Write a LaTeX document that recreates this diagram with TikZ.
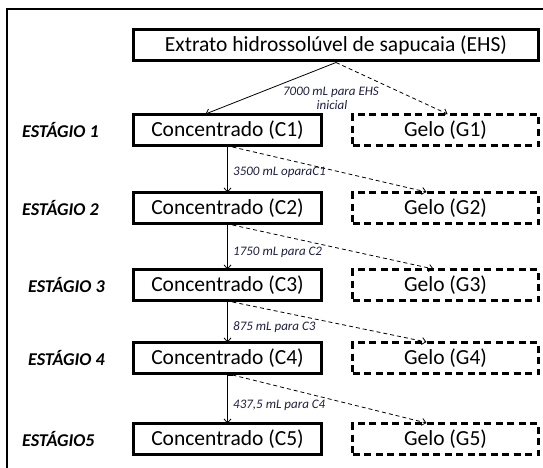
\documentclass[tikz,border=0pt]{standalone}
\usepackage{fontspec}
\setmainfont{Carlito}
\usetikzlibrary{arrows.meta}
\definecolor{lblcol}{rgb}{0.12,0.12,0.25}
\begin{document}
\begin{tikzpicture}[x=1pt,y=-1pt,
  solidbox/.style={draw,line width=3pt,minimum height=31pt,inner sep=0pt,font=\fontsize{21.5}{25}\selectfont},
  dashbox/.style={draw,line width=3pt,dash pattern=on 7pt off 4.5pt,minimum width=186pt,minimum height=31pt,inner sep=0pt,font=\fontsize{21.5}{25}\selectfont},
  stagelbl/.style={anchor=west,inner sep=0pt,font=\fontsize{18}{21}\selectfont\bfseries\itshape},
  flowlbl/.style={anchor=west,inner sep=0pt,text=lblcol,font=\fontsize{13}{14}\selectfont\itshape},
  solidarrow/.style={line width=0.8pt,-{Straight Barb[length=4pt,width=7pt]}},
  dasharrow/.style={line width=0.8pt,dash pattern=on 4pt off 3pt,-{Straight Barb[length=4pt,width=7pt]}}
]
\useasboundingbox (0,0) rectangle (543,468);
% outer frame (cut off at right and bottom)
\draw[line width=2pt] (560,9) -- (7,9) -- (7,480);

\node[solidbox,minimum width=405pt] (EHS) at (336,45.5) {Extrato hidrossolúvel de sapucaia (EHS)};

\foreach \i/\y in {1/130,2/208,3/285,4/358,5/439}{
  \node[solidbox,minimum width=188pt] (C\i) at (227.5,\y) {Concentrado (C\i)};
  \node[dashbox] (G\i) at (445.5,\y) {Gelo (G\i)};
}

\node[stagelbl] (S1) at (22,130) {ESTÁGIO 1};
\node[stagelbl] (S2) at (22,208) {ESTÁGIO 2};
\node[stagelbl] (S3) at (28,285) {ESTÁGIO 3};
\node[stagelbl] (S4) at (28,358) {ESTÁGIO 4};
\node[stagelbl] (S5) at (22,439) {ESTÁGIO5};

% arrows
\draw[solidarrow] (EHS.south) -- ([xshift=-22pt,yshift=-1pt]C1.north);
\draw[dasharrow] (EHS.south) -- ([xshift=2pt,yshift=-1pt]G1.north);
\node[flowlbl,anchor=center] (L0a) at (331,92) {7000 mL para EHS};
\node[flowlbl,anchor=center] (L0b) at (332,105) {inicial};

\draw[solidarrow] (C1.south) -- ([yshift=-1.5pt]C2.north);
\draw[dasharrow] ([xshift=5pt]C1.south) -- ([xshift=-19pt,yshift=-1pt]G2.north);
\node[flowlbl] (L1) at (233,172) {3500 mL oparaC1};

\draw[solidarrow] (C2.south) -- ([yshift=-1.5pt]C3.north);
\draw[dasharrow] ([xshift=5pt]C2.south) -- ([xshift=-12pt,yshift=-1pt]G3.north);
\node[flowlbl] (L2) at (233,252) {1750 mL para C2};

\draw[solidarrow] (C3.south) -- ([yshift=-1.5pt]C4.north);
\draw[dasharrow] ([xshift=5pt]C3.south) -- ([xshift=-19pt,yshift=-1pt]G4.north);
\node[flowlbl] (L3) at (233,327) {875 mL para C3};

\draw[line width=0.8pt] ([xshift=5pt]C4.south) -- (C4.south);
\draw[solidarrow] (C4.south) -- ([yshift=-1.5pt]C5.north);
\draw[dasharrow] ([xshift=5pt]C4.south) -- ([xshift=-19pt,yshift=-1pt]G5.north);
\node[flowlbl] (L4) at (233,405) {437,5 mL para C4};
\end{tikzpicture}
\end{document}
